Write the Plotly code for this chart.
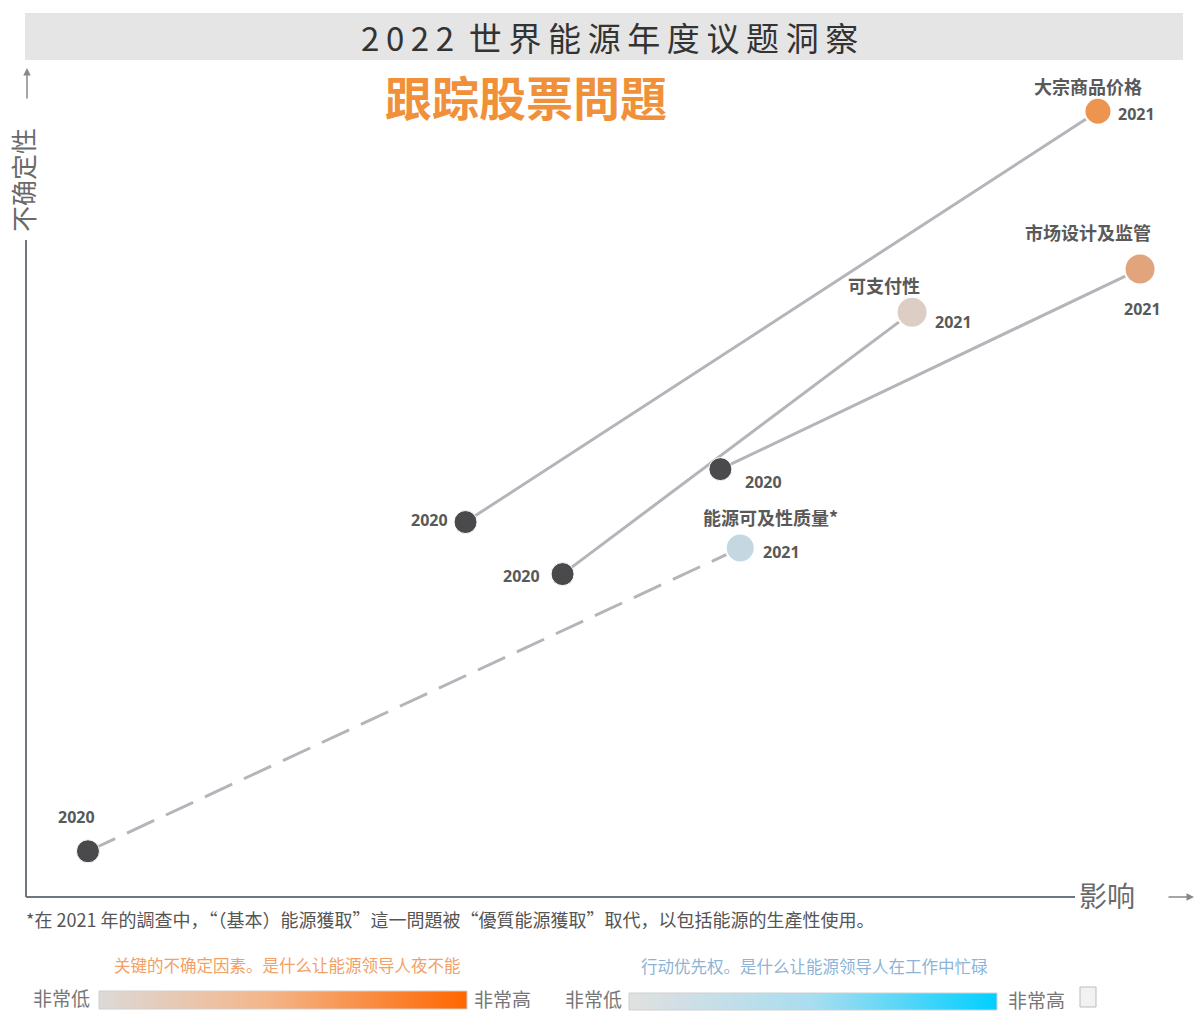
import plotly.graph_objects as go

# ---------------- data ----------------
issues = ["大宗商品价格", "市场设计及监管", "可支付性", "能源可及性质量*"]
impact_2020 = [37.6, 59.4, 45.9, 5.3]
uncert_2020 = [41.8, 47.7, 36.0, 5.1]
impact_2021 = [91.7, 95.3, 75.8, 61.1]
uncert_2021 = [87.6, 70.0, 65.2, 38.9]
colors_2021 = ["#EC9450", "#E2A47C", "#DCCEC5", "#C5D7E0"]
sizes_2021 = [27, 31, 31, 29]
dashes = ["solid", "solid", "solid", "30px,13px"]
year_labels = ["2020", "2021"]

W, H = 1195, 1012
def px(x):
    return x / W
def py(y):
    return 1 - y / H

FONT = "Noto Sans CJK SC"
LABEL_C = "#595959"

fig = go.Figure()

# connecting lines
for i in range(len(issues)):
    fig.add_trace(go.Scatter(
        x=[impact_2020[i], impact_2021[i]], y=[uncert_2020[i], uncert_2021[i]],
        mode="lines", line=dict(color="#B3B5BA", width=3, dash=dashes[i]),
        hoverinfo="skip", showlegend=False, cliponaxis=False))

# 2020 markers
fig.add_trace(go.Scatter(
    x=impact_2020, y=uncert_2020, mode="markers",
    marker=dict(size=23, color="#4A4A4C", opacity=1, line=dict(color="#FFFFFF", width=1)),
    showlegend=False, cliponaxis=False, text=issues, hoverinfo="text"))

# 2021 markers
fig.add_trace(go.Scatter(
    x=impact_2021, y=uncert_2021, mode="markers",
    marker=dict(size=sizes_2021, color=colors_2021, opacity=1, line=dict(color="#FFFFFF", width=2)),
    showlegend=False, cliponaxis=False, text=issues, hoverinfo="text"))

# gradient bars (legend)
fig.add_trace(go.Heatmap(z=[[0, 0.5, 1]], x=[0, 0.5, 1], y=[0], zsmooth="best",
                         colorscale=[[0, "#DCD9D7"], [0.45, "#F4B68A"], [1, "#FF6600"]],
                         showscale=False, hoverinfo="skip", xaxis="x2", yaxis="y2"))
fig.add_trace(go.Heatmap(z=[[0, 0.5, 1]], x=[0, 0.5, 1], y=[0], zsmooth="best",
                         colorscale=[[0, "#E0E0E0"], [0.5, "#A8DDF0"], [1, "#00CFFF"]],
                         showscale=False, hoverinfo="skip", xaxis="x3", yaxis="y3"))

ann = []
# point labels
name_shift = [(-10, 25), (-52, 37), (-28, 27), (30, 31)]
y21_shift = [(39, -3), (2, -40), (41, -10), (41, -4)]
y20_shift = [(-36, 2), (43, -13), (-41, -2), (-11, 34)]
for i, name in enumerate(issues):
    ann.append(dict(x=impact_2021[i], y=uncert_2021[i], xref="x", yref="y",
                    text="<b>%s</b>" % name, showarrow=False,
                    xshift=name_shift[i][0], yshift=name_shift[i][1],
                    font=dict(family=FONT, size=18, color=LABEL_C)))
    ann.append(dict(x=impact_2021[i], y=uncert_2021[i], xref="x", yref="y",
                    text="<b>%s</b>" % year_labels[1], showarrow=False,
                    xshift=y21_shift[i][0], yshift=y21_shift[i][1],
                    font=dict(family="Open Sans", size=16, color=LABEL_C)))
    ann.append(dict(x=impact_2020[i], y=uncert_2020[i], xref="x", yref="y",
                    text="<b>%s</b>" % year_labels[0], showarrow=False,
                    xshift=y20_shift[i][0], yshift=y20_shift[i][1],
                    font=dict(family="Open Sans", size=16, color=LABEL_C)))

def txt(x, y, s, size, color, xanchor="center", **kw):
    d = dict(x=px(x), y=py(y), xref="paper", yref="paper", text=s, showarrow=False,
             xanchor=xanchor, yanchor="middle", font=dict(family=FONT, size=size, color=color))
    d.update(kw)
    ann.append(d)

title = "\u2009".join(list("2022")) + "  " + "\u2009".join(list("世界能源年度议题洞察"))
txt(609, 37, title, 33, "#333333")
txt(526, 95, "<b>跟踪股票問題</b>", 47, "#F0913A")
txt(23, 180, "不确定性", 26, "#6A6A6A", textangle=-90)
txt(1107, 895, "影响", 28, "#6A6A6A")
txt(24, 919, "*在 2021 年的調查中，“（基本）能源獲取”這一問題被“優質能源獲取”取代，以包括能源的生產性使用。",
    18, "#555555", xanchor="left")
txt(287, 965, "关键的不确定因素。是什么让能源领导人夜不能", 16.5, "#F2A066")
txt(814, 966, "行动优先权。是什么让能源领导人在工作中忙碌", 16.5, "#8DB4D6")
txt(61, 997, "非常低", 19, "#777777")
txt(502, 998, "非常高", 19, "#777777")
txt(593, 998, "非常低", 19, "#777777")
txt(1036, 999, "非常高", 19, "#777777")

# arrows
ann.append(dict(x=px(27), y=py(68), xref="paper", yref="paper", ax=0, ay=32,
                showarrow=True, arrowhead=2, arrowsize=1, arrowwidth=1.5, arrowcolor="#888888", text=""))
ann.append(dict(x=px(1194), y=py(897), xref="paper", yref="paper", ax=-27, ay=0,
                showarrow=True, arrowhead=2, arrowsize=1, arrowwidth=1.5, arrowcolor="#888888", text=""))

shapes = [
    dict(type="rect", xref="paper", yref="paper", x0=px(25), x1=px(1183), y0=py(60), y1=py(13),
         fillcolor="#E5E5E5", line=dict(width=0), layer="below"),
    dict(type="line", xref="paper", yref="paper", x0=px(26), x1=px(26), y0=py(240), y1=py(897),
         line=dict(color="#6E7683", width=2)),
    dict(type="line", xref="paper", yref="paper", x0=px(26), x1=px(1075), y0=py(897), y1=py(897),
         line=dict(color="#6E7683", width=2)),
    dict(type="rect", xref="paper", yref="paper", x0=px(99), x1=px(467), y0=py(1009), y1=py(991),
         line=dict(color="#CFCFCF", width=1)),
    dict(type="rect", xref="paper", yref="paper", x0=px(629), x1=px(997), y0=py(1010), y1=py(993),
         line=dict(color="#CFCFCF", width=1)),
    dict(type="rect", xref="paper", yref="paper", x0=px(1080), x1=px(1096), y0=py(1007), y1=py(987),
         fillcolor="#F2F2F2", line=dict(color="#BBBBBB", width=1)),
]

hidden = dict(visible=False, showgrid=False, zeroline=False, fixedrange=True)
fig.update_layout(
    width=W, height=H, margin=dict(l=0, r=0, t=0, b=0),
    paper_bgcolor="white", plot_bgcolor="rgba(0,0,0,0)",
    xaxis=dict(domain=[px(26), 1], range=[0, 100], **hidden),
    yaxis=dict(domain=[py(897), 1], range=[0, 100], **hidden),
    xaxis2=dict(domain=[px(99), px(467)], range=[0, 1], anchor="y2", **hidden),
    yaxis2=dict(domain=[py(1009), py(991)], range=[-0.5, 0.5], anchor="x2", **hidden),
    xaxis3=dict(domain=[px(629), px(997)], range=[0, 1], anchor="y3", **hidden),
    yaxis3=dict(domain=[py(1010), py(993)], range=[-0.5, 0.5], anchor="x3", **hidden),
    annotations=ann, shapes=shapes, showlegend=False,
)

fig.write_html("out.html", config={"displayModeBar": False},
               post_script="document.body.style.margin='0';document.body.style.overflow='hidden';")
